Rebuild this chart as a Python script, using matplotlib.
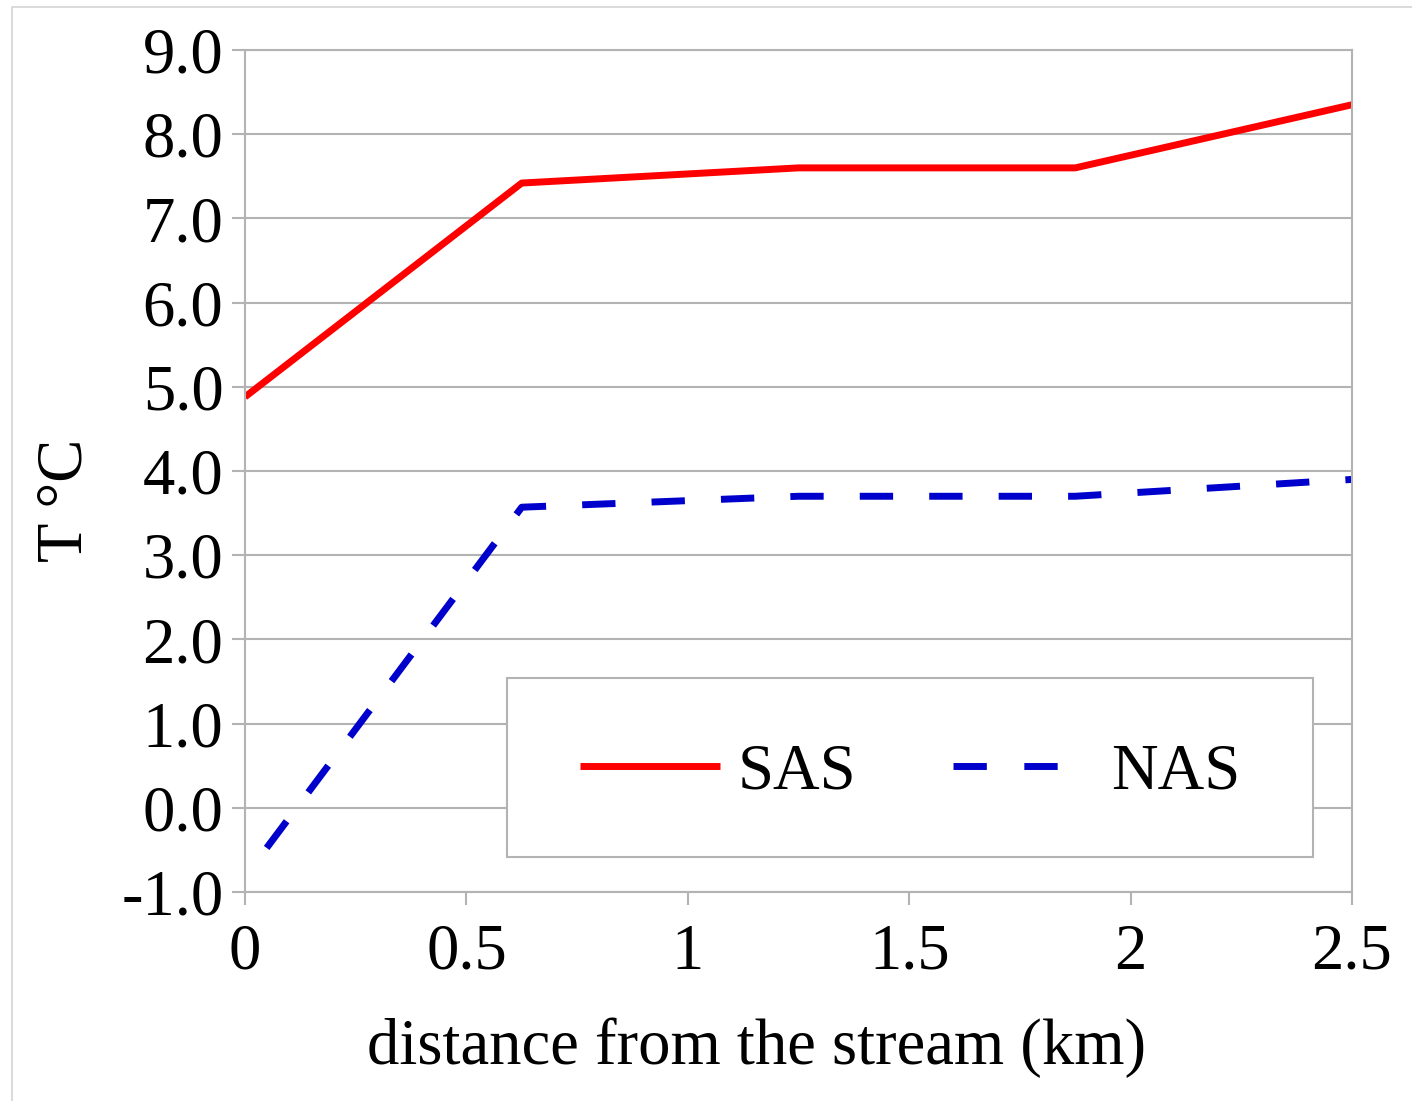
import matplotlib
matplotlib.use("Agg")
import matplotlib.pyplot as plt
from matplotlib.lines import Line2D
from matplotlib.patches import Rectangle

# ---- data ----
distance_km = [0.0, 0.625, 1.25, 1.875, 2.5]
sas_temp = [4.88, 7.42, 7.60, 7.60, 8.35]
nas_temp = [-0.82, 3.57, 3.70, 3.70, 3.90]
series_labels = ["SAS", "NAS"]
x_ticks = [0, 0.5, 1, 1.5, 2, 2.5]
x_tick_labels = ["0", "0.5", "1", "1.5", "2", "2.5"]
y_ticks = [-1.0, 0.0, 1.0, 2.0, 3.0, 4.0, 5.0, 6.0, 7.0, 8.0, 9.0]
y_tick_labels = [f"{v:.1f}" for v in y_ticks]
x_label = "distance from the stream (km)"
y_label = "T °C"

plt.rcParams["font.family"] = ["Liberation Serif", "DejaVu Serif"]
plt.rcParams["axes.unicode_minus"] = False

W, H = 1412, 1101
fig = plt.figure(figsize=(W / 100, H / 100), dpi=100)
fig.patch.set_facecolor("white")

# outer light frame (cropped on right/bottom)
fig.patches.append(Rectangle((12 / W, -0.1), 1.2, 1 - 7 / H + 0.1,
                             transform=fig.transFigure, fill=False,
                             edgecolor="#d4d4d4", linewidth=1.2))

ax = fig.add_axes([245 / W, 1 - 892 / H, 1107 / W, 842 / H])

grey = "#b3b3b3"
fs = 46.5
em = fs * 100 / 72.0  # font size in pixels

ax.plot(distance_km, sas_temp, color="#ff0000", lw=5, solid_joinstyle="round",
        solid_capstyle="butt")
ax.plot(distance_km, nas_temp, color="#0000cc", lw=5,
        linestyle=(4.8, (4.8, 5.2)), dash_capstyle="butt", dash_joinstyle="round")

ax.set_xlim(0, 2.5)
ax.set_ylim(-1.0, 9.0)
ax.set_xticks(x_ticks)
ax.set_xticklabels(x_tick_labels)
ax.set_yticks(y_ticks)
ax.set_yticklabels(y_tick_labels)

ax.yaxis.grid(True, color=grey, linewidth=1.5)
ax.xaxis.grid(False)
ax.set_axisbelow(True)
for s in ax.spines.values():
    s.set_color(grey)
    s.set_linewidth(1.5)

ax.tick_params(axis="both", direction="out", length=9.5, width=1.5, color=grey,
               labelsize=fs, labelcolor="black")
ax.tick_params(axis="y", pad=6)
ax.tick_params(axis="x", pad=13)

fig.text(757 / W, 1 - 1048 / H, x_label, ha="center", va="center", fontsize=fs)
fig.text(66 / W, 1 - 500 / H, y_label, ha="center", va="center", fontsize=fs,
         rotation=90)

# legend box
box_l, box_t, box_r, box_b = 507, 678, 1313, 857
fig.patches.append(Rectangle((box_l / W, 1 - box_b / H), (box_r - box_l) / W,
                             (box_b - box_t) / H, transform=fig.transFigure,
                             facecolor="white", edgecolor=grey, linewidth=1.5,
                             zorder=4))

handles = [
    Line2D([], [], color="#ff0000", lw=5, solid_capstyle="butt"),
    Line2D([], [], color="#0000cc", lw=5, linestyle=(0, (4.8, 5.4)),
           dash_capstyle="butt"),
]
leg = fig.legend(handles, series_labels, loc="center",
                 bbox_to_anchor=((box_l + box_r) / 2 / W, 1 - 773 / H),
                 borderaxespad=0, borderpad=0,
                 ncol=2, fontsize=fs, handlelength=140 / em,
                 handletextpad=18 / em, columnspacing=97 / em,
                 frameon=False)
leg.set_zorder(5)

fig.savefig("out.png", dpi=100)
